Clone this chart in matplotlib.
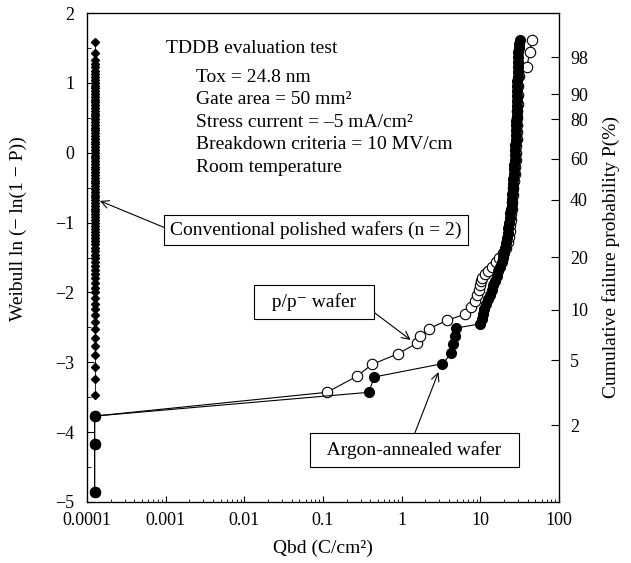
import numpy as np
import matplotlib.pyplot as plt
from matplotlib.ticker import MultipleLocator, NullLocator

plt.rcParams['font.family'] = ['Liberation Serif', 'DejaVu Serif']
plt.rcParams['font.size'] = 13

# conventional polished wafers: every chip fails at the lowest Qbd
conv_qbd = 1.25e-4
conv_w = [-3.47, -3.24, -3.07, -2.90, -2.77, -2.65, -2.53, -2.43, -2.33, -2.24,
          -2.16, -2.08, -2.00, -1.93, -1.86, -1.80, -1.74, -1.68, -1.62, -1.57,
          -1.51, -1.46, -1.41, -1.36, -1.31, -1.27, -1.22, -1.18, -1.13, -1.09,
          -1.05, -1.00, -0.96, -0.92, -0.88, -0.84, -0.80, -0.76, -0.72, -0.68,
          -0.64, -0.60, -0.56, -0.52, -0.48, -0.44, -0.40, -0.36, -0.32, -0.28,
          -0.24, -0.20, -0.16, -0.12, -0.08, -0.04, 0.00, 0.04, 0.08, 0.12,
          0.16, 0.20, 0.24, 0.28, 0.32, 0.36, 0.40, 0.44, 0.48, 0.52,
          0.56, 0.60, 0.64, 0.68, 0.72, 0.76, 0.80, 0.84, 0.88, 0.92,
          0.96, 1.00, 1.04, 1.08, 1.12, 1.17, 1.22, 1.27, 1.33, 1.43, 1.59]

# argon-annealed wafer (filled circles)
argon_qbd = [1.25e-4, 1.25e-4, 1.25e-4, 0.38, 0.45, 3.3, 4.3, 4.5, 4.7, 4.9,
             10.0, 10.4, 10.8, 11.2, 11.8, 12.5, 13.2, 13.9, 14.6, 15.4,
             16.2, 17.0, 17.8, 18.6, 19.4, 20.2, 20.8, 21.3, 21.8, 22.3,
             22.8, 23.3, 23.7, 24.1, 24.5, 24.9, 25.2, 25.5, 25.8, 26.1,
             26.4, 26.6, 26.8, 27.0, 27.2, 27.4, 27.6, 27.8, 28.0, 28.2,
             28.4, 28.6, 28.8, 29.0, 29.1, 29.2, 29.3, 29.4, 29.5, 29.5,
             29.6, 29.7, 29.8, 29.8, 29.9, 30.0, 30.2, 30.6, 31.3, 32.1]
argon_w = [-4.86, -4.17, -3.77, -3.43, -3.21, -3.02, -2.87, -2.74, -2.62, -2.51,
           -2.45, -2.38, -2.31, -2.24, -2.17, -2.10, -2.03, -1.96, -1.90, -1.83,
           -1.76, -1.70, -1.63, -1.56, -1.50, -1.43, -1.36, -1.29, -1.22, -1.15,
           -1.08, -1.01, -0.94, -0.87, -0.80, -0.73, -0.66, -0.59, -0.52, -0.45,
           -0.38, -0.31, -0.24, -0.17, -0.10, -0.03, 0.04, 0.11, 0.18, 0.25,
           0.32, 0.39, 0.46, 0.53, 0.60, 0.67, 0.74, 0.81, 0.88, 0.95,
           1.02, 1.09, 1.16, 1.23, 1.30, 1.37, 1.44, 1.50, 1.56, 1.62]

# p/p- wafer (open circles)
pp_qbd = [1.25e-4, 1.25e-4, 1.25e-4, 0.112, 0.27, 0.42, 0.89, 1.55, 1.70, 2.2,
          3.8, 6.4, 7.7, 8.6, 9.2, 9.6, 10.0, 10.2, 10.5, 11.5,
          12.6, 14.0, 15.6, 17.4, 19.4, 21.4, 22.6, 23.2, 23.6, 24.0,
          24.3, 24.6, 25.0, 25.5, 26.0, 26.4, 26.8, 27.2, 27.6, 28.0,
          28.3, 28.6, 28.9, 29.1, 29.3, 29.5, 29.6, 29.7, 29.8, 30.0,
          31.0, 39.0, 42.5, 45.5]
pp_w = [-4.86, -4.17, -3.77, -3.43, -3.20, -3.03, -2.88, -2.73, -2.63, -2.52,
        -2.40, -2.31, -2.21, -2.12, -2.04, -1.97, -1.90, -1.84, -1.79, -1.74,
        -1.70, -1.64, -1.57, -1.50, -1.43, -1.36, -1.28, -1.20, -1.12, -1.04,
        -0.96, -0.88, -0.80, -0.70, -0.60, -0.50, -0.40, -0.30, -0.20, -0.10,
        0.00, 0.10, 0.20, 0.30, 0.40, 0.50, 0.60, 0.70, 0.82, 0.96,
        1.10, 1.23, 1.44, 1.62]

xticks = [1e-4, 1e-3, 1e-2, 1e-1, 1, 10, 100]
xtick_labels = ['0.0001', '0.001', '0.01', '0.1', '1', '10', '100']
prob_ticks = [2, 5, 10, 20, 40, 60, 80, 90, 98]

fig = plt.figure(figsize=(6.31, 5.63), dpi=100)
ax = fig.add_axes([87 / 631, 1 - 502 / 563, (559 - 87) / 631, (502 - 13) / 563])

ax.plot(pp_qbd, pp_w, '-o', color='k', mfc='white', mec='k', ms=7.5, mew=0.8,
        lw=0.8, zorder=3)
ax.plot(argon_qbd, argon_w, '-o', color='k', ms=7, lw=0.8, zorder=4)
ax.plot([conv_qbd] * len(conv_w), conv_w, '-D', color='k', ms=4.5, lw=0.6,
        zorder=5)

ax.set_xscale('log')
ax.set_xlim(1e-4, 1e2)
ax.set_ylim(-5, 2)
ax.set_xticks(xticks)
ax.set_xticklabels(xtick_labels)
ax.yaxis.set_major_locator(MultipleLocator(1))
ax.yaxis.set_minor_locator(MultipleLocator(0.5))
ax.tick_params(which='both', direction='in', top=False, right=False)
ax.tick_params(axis='y', which='major', length=5, pad=9)
ax.tick_params(axis='y', which='minor', length=3)
ax.tick_params(axis='x', which='major', length=4, pad=7)
ax.tick_params(axis='x', which='minor', length=2.5)
for s in ax.spines.values():
    s.set_linewidth(0.9)

ax.set_xlabel('Qbd (C/cm²)', labelpad=8, fontsize=14)
ax.set_ylabel('Weibull ln (− ln(1 − P))', fontsize=14)
ax.yaxis.set_label_coords(-0.128, 0.56)

ax2 = ax.twinx()
ax2.set_ylim(-5, 2)
ax2.set_yticks(np.log(-np.log(1 - np.array(prob_ticks) / 100)))
ax2.set_yticklabels([str(p) for p in prob_ticks])
ax2.yaxis.set_minor_locator(NullLocator())
ax2.tick_params(direction='in', length=6, pad=8)
ax2.set_ylabel('Cumulative failure probability P(%)', labelpad=10, fontsize=14)

ax.text(0.1667, 0.928, 'TDDB evaluation test', transform=ax.transAxes,
        fontsize=14, va='center')
info = ['Tox = 24.8 nm', 'Gate area = 50 mm²', 'Stress current = –5 mA/cm²',
        'Breakdown criteria = 10 MV/cm', 'Room temperature']
for i, line in enumerate(info):
    ax.text(0.23, 0.869 - i * 0.046, line, transform=ax.transAxes,
            fontsize=14, va='center')

box = dict(boxstyle='square,pad=0.3', fc='white', ec='black', lw=0.8)
box2 = dict(boxstyle='square,pad=0.4', fc='white', ec='black', lw=0.8)
ax.annotate('Conventional polished wafers (n = 2)', xy=(1.46e-4, -0.69),
            xytext=(0.0815, -1.106), ha='center', va='center', fontsize=14,
            bbox=box, zorder=6,
            arrowprops=dict(arrowstyle='->', lw=0.8, relpos=(0, 0.5),
                            shrinkA=0, shrinkB=0))
ax.annotate('  p/p⁻ wafer  ', xy=(1.30, -2.68), xytext=(0.0769, -2.137),
            ha='center', va='center', fontsize=14, bbox=box2, zorder=6,
            arrowprops=dict(arrowstyle='->', lw=0.8, relpos=(1, 0.26),
                            shrinkA=0, shrinkB=0))
ax.annotate('  Argon-annealed wafer  ', xy=(2.94, -3.14), xytext=(1.46, -4.256),
            ha='center', va='center', fontsize=14, bbox=box2, zorder=6,
            arrowprops=dict(arrowstyle='->', lw=0.8, relpos=(0.485, 1),
                            shrinkA=0, shrinkB=0))

fig.savefig('out.png', dpi=100)
